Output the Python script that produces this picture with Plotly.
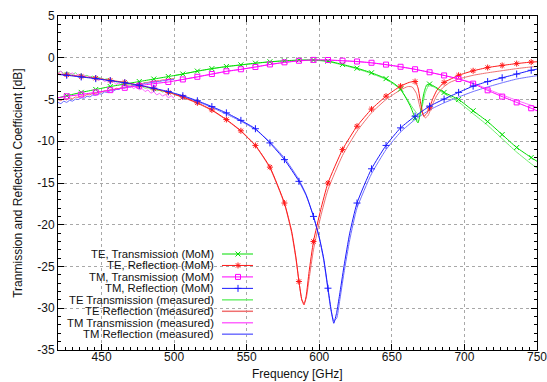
import plotly.graph_objects as go

# ---------------- data ----------------
# MoM simulations
te_t_mom_f = [420, 426, 436, 446, 456, 466, 476, 486, 496, 506, 516, 526, 536, 546, 556, 566, 576, 586, 596, 606,
              616, 626, 636, 646, 652, 656, 660, 663, 666, 668, 670, 672, 674, 676, 680, 686, 696, 706, 716, 726,
              736, 746, 750]
te_t_mom_db = [-4.8, -4.55, -4.15, -3.8, -3.45, -3.15, -2.85, -2.55, -2.25, -1.95, -1.6, -1.3, -1.05, -0.85, -0.65,
               -0.48, -0.36, -0.28, -0.27, -0.4, -0.8, -1.25, -1.8, -2.5, -3.15, -3.75, -4.9, -5.9, -7.2, -7.8,
               -6.3, -4.3, -3.25, -3.15, -3.5, -4.15, -5.0, -6.35, -7.65, -9.2, -10.75, -11.95, -12.4]

te_r_mom_f = [420, 426, 436, 446, 456, 466, 476, 486, 496, 506, 516, 526, 536, 546, 556, 566, 576, 581, 584, 586,
              588, 589.5, 591, 593, 596, 601, 606, 616, 626, 636, 646, 656, 662, 666, 668, 670, 672, 674, 676,
              678, 681, 686, 690, 696, 706, 716, 726, 736, 746, 750]
te_r_mom_db = [-1.95, -2.05, -2.25, -2.45, -2.7, -2.95, -3.3, -3.7, -4.15, -4.7, -5.4, -6.25, -7.4, -8.75, -10.5,
               -13.1, -17.4, -20.8, -24.0, -26.8, -29.0, -29.6, -28.5, -25.6, -22.0, -18.2, -15.0, -11.0, -8.2,
               -6.15, -4.6, -3.4, -2.95, -2.85, -3.6, -5.6, -7.0, -6.7, -6.0, -5.0, -3.9, -2.95, -2.6, -2.1, -1.56,
               -1.17, -0.92, -0.7, -0.52, -0.48]

tm_t_mom_f = [420, 426, 436, 446, 456, 466, 476, 486, 496, 506, 516, 526, 536, 546, 556, 566, 576, 586, 596, 606,
              616, 626, 636, 646, 656, 666, 676, 686, 696, 706, 716, 726, 736, 746, 750]
tm_t_mom_db = [-4.8, -4.62, -4.4, -4.15, -3.88, -3.6, -3.35, -3.1, -2.9, -2.6, -2.28, -1.95, -1.62, -1.38, -1.1,
               -0.8, -0.55, -0.36, -0.26, -0.27, -0.35, -0.45, -0.6, -0.82, -1.08, -1.38, -1.74, -2.12, -2.55,
               -3.1, -3.9, -4.65, -5.35, -6.05, -6.35]

tm_r_mom_f = [420, 426, 436, 446, 456, 466, 476, 486, 496, 506, 516, 526, 536, 546, 556, 566, 576, 586, 591, 596,
              600, 603, 606, 608, 610, 612, 614, 617, 621, 626, 636, 646, 656, 666, 676, 686, 696, 706, 716, 726,
              736, 746, 750]
tm_r_mom_db = [-2.0, -2.1, -2.3, -2.5, -2.75, -3.0, -3.3, -3.65, -4.05, -4.55, -5.15, -5.85, -6.6, -7.5, -8.5,
               -10.2, -12.2, -14.8, -16.5, -19.0, -21.5, -24.0, -27.6, -30.0, -31.8, -30.5, -28.4, -25.0, -21.0,
               -17.4, -13.3, -10.5, -8.4, -7.0, -5.8, -4.95, -4.15, -3.4, -2.85, -2.4, -1.95, -1.5, -1.36]

# Measurements, band 1 (420-500 GHz, every 2 GHz)
meas1_f = [420, 422, 424, 426, 428, 430, 432, 434, 436, 438, 440, 442, 444, 446, 448, 450, 452, 454, 456, 458,
           460, 462, 464, 466, 468, 470, 472, 474, 476, 478, 480, 482, 484, 486, 488, 490, 492, 494, 496, 498, 500]
te_t_meas1 = [-1.75, -1.6, -1.9, -1.7, -1.85, -2.0, -1.8, -2.1, -1.95, -2.2, -2.1, -2.3, -2.2, -2.45, -2.35, -2.5,
              -2.6, -2.5, -2.75, -2.7, -2.9, -2.85, -3.05, -3.0, -3.2, -3.15, -3.35, -3.3, -3.5, -3.45, -3.65,
              -3.6, -3.8, -3.75, -3.95, -3.9, -4.1, -4.0, -4.25, -4.2, -4.35]
tm_t_meas1 = [-1.9, -1.6, -2.1, -1.75, -2.0, -1.8, -2.2, -1.95, -2.3, -2.05, -2.4, -2.2, -2.55, -2.35, -2.7, -2.5,
              -2.85, -2.7, -3.0, -2.85, -3.2, -3.0, -3.35, -3.2, -3.5, -3.35, -3.7, -3.5, -3.85, -3.7, -4.05,
              -3.85, -4.25, -4.05, -4.45, -4.25, -4.6, -4.4, -4.8, -4.55, -4.85]
te_r_meas1 = [-5.0, -5.15, -4.9, -5.05, -4.8, -4.9, -4.7, -4.75, -4.55, -4.6, -4.4, -4.45, -4.25, -4.3, -4.1,
              -4.15, -3.95, -4.0, -3.8, -3.85, -3.65, -3.7, -3.5, -3.55, -3.35, -3.4, -3.25, -3.25, -3.1, -3.1,
              -2.95, -2.95, -2.85, -2.85, -2.75, -2.75, -2.65, -2.65, -2.55, -2.55, -2.5]
tm_r_meas1 = [-5.35, -5.5, -5.2, -5.35, -5.1, -5.2, -4.95, -5.0, -4.8, -4.85, -4.6, -4.7, -4.45, -4.5, -4.3,
              -4.35, -4.1, -4.15, -3.95, -4.0, -3.8, -3.8, -3.6, -3.65, -3.45, -3.5, -3.3, -3.35, -3.2, -3.2,
              -3.05, -3.05, -2.95, -2.95, -2.85, -2.85, -2.75, -2.75, -2.65, -2.65, -2.6]

# Measurements, band 2 (500-750 GHz)
te_t_meas2_f = [500, 506, 516, 526, 536, 546, 556, 566, 576, 586, 596, 606, 616, 626, 636, 646, 652, 656, 660, 664,
                667, 669, 671, 673, 675, 677, 680, 686, 696, 706, 716, 726, 736, 746, 750]
te_t_meas2_db = [-2.15, -1.95, -1.62, -1.32, -1.07, -0.87, -0.67, -0.5, -0.38, -0.3, -0.3, -0.45, -0.87, -1.33,
                 -1.9, -2.6, -3.25, -3.85, -4.8, -5.9, -6.6, -6.9, -5.8, -4.2, -3.45, -3.35, -3.6, -4.3, -5.3,
                 -6.7, -8.1, -9.7, -11.3, -12.7, -13.2]

te_r_meas2_f = [500, 506, 516, 526, 536, 546, 556, 566, 576, 581, 584, 586, 588, 589.5, 591, 593, 596, 601, 606,
                616, 626, 636, 646, 656, 661, 664, 667, 670, 673, 675, 678, 681, 685, 690, 696, 706, 716, 726, 736,
                746, 750]
te_r_meas2_db = [-4.4, -4.75, -5.45, -6.3, -7.45, -8.8, -10.55, -13.2, -17.5, -21.0, -24.2, -26.8, -29.0, -29.4,
                 -28.8, -26.5, -23.0, -19.0, -15.8, -11.7, -8.8, -6.6, -5.0, -3.85, -3.45, -3.5, -4.3, -6.3, -7.2,
                 -6.9, -5.6, -4.5, -3.6, -2.95, -2.55, -2.1, -1.8, -1.55, -1.3, -1.1, -1.04]

tm_t_meas2_f = [500, 506, 516, 526, 536, 546, 556, 566, 576, 586, 596, 606, 616, 626, 636, 646, 656, 666, 676, 686,
                696, 706, 716, 726, 736, 746, 750]
tm_t_meas2_db = [-2.8, -2.6, -2.3, -1.97, -1.65, -1.4, -1.12, -0.82, -0.57, -0.38, -0.28, -0.29, -0.37, -0.47,
                 -0.62, -0.84, -1.1, -1.4, -1.75, -2.12, -2.52, -3.02, -3.75, -4.45, -5.1, -5.7, -5.95]

tm_r_meas2_f = [500, 506, 516, 526, 536, 546, 556, 566, 576, 586, 591, 596, 600, 603, 606, 608, 610, 612, 614, 617,
                621, 626, 636, 646, 656, 666, 676, 686, 696, 706, 716, 726, 736, 746, 750]
tm_r_meas2_db = [-4.3, -4.65, -5.25, -5.95, -6.75, -7.6, -8.6, -10.1, -12.0, -14.6, -16.4, -19.0, -21.6, -24.2,
                 -27.8, -30.2, -31.5, -31.2, -29.2, -25.8, -21.8, -18.0, -13.9, -11.0, -8.9, -7.4, -6.25, -5.4,
                 -4.7, -4.05, -3.5, -3.0, -2.55, -2.25, -2.15]

legend_labels = ["TE, Transmission (MoM)", "TE, Reflection (MoM)", "TM, Transmission (MoM)",
                 "TM, Reflection (MoM)", "TE Transmission (measured)", "TE Reflection (measured)",
                 "TM Transmission (measured)", "TM Reflection (measured)"]

x_ticks = [450, 500, 550, 600, 650, 700, 750]
y_ticks = [5, 0, -5, -10, -15, -20, -25, -30, -35]

# ---------------- styles ----------------
C_MOM = ["#00dd00", "#ff1a1a", "#ff00ff", "#1a1aff"]
C_MEAS = ["#70f070", "#f07070", "#ff66ff", "#7070ff"]
SYMS = ["x-thin-open", "asterisk-open", "square-open", "cross-thin-open"]
FONT = "Liberation Sans, Arial, sans-serif"

fig = go.Figure()

moms = [(te_t_mom_f, te_t_mom_db), (te_r_mom_f, te_r_mom_db), (tm_t_mom_f, tm_t_mom_db), (tm_r_mom_f, tm_r_mom_db)]
meas = [(te_t_meas1, te_t_meas2_f, te_t_meas2_db), (te_r_meas1, te_r_meas2_f, te_r_meas2_db),
        (tm_t_meas1, tm_t_meas2_f, tm_t_meas2_db), (tm_r_meas1, tm_r_meas2_f, tm_r_meas2_db)]

# measured curves
for i, (b1, f2, d2) in enumerate(meas):
    fig.add_trace(go.Scatter(x=meas1_f, y=b1, mode="lines", line=dict(color=C_MEAS[i], width=1),
                             showlegend=False, hoverinfo="skip"))
    fig.add_trace(go.Scatter(x=f2, y=d2, mode="lines", line=dict(color=C_MEAS[i], width=1, shape="spline",
                                                                 smoothing=0.5),
                             showlegend=False, hoverinfo="skip"))

# MoM curves with markers every 10 GHz
for i, (f, d) in enumerate(moms):
    fig.add_trace(go.Scatter(x=f, y=d, mode="lines", line=dict(color=C_MOM[i], width=1, shape="spline",
                                                               smoothing=0.5),
                             showlegend=False, hoverinfo="skip"))
    mf = [fv for fv in f if float(fv).is_integer() and int(fv) % 10 == 6]
    md = [dv for fv, dv in zip(f, d) if float(fv).is_integer() and int(fv) % 10 == 6]
    fig.add_trace(go.Scatter(x=mf, y=md, mode="markers",
                             marker=dict(symbol=SYMS[i], size=5, color=C_MOM[i], line=dict(width=1, color=C_MOM[i])),
                             showlegend=False, hoverinfo="skip"))

# custom gnuplot-style key (text right, sample on the right) on overlay axes
row0 = 0.2874
dy = 0.0343
for k, lab in enumerate(legend_labels):
    yk = row0 - k * dy
    fig.add_annotation(x=0.3278, y=yk, xref="paper", yref="paper", text=lab, showarrow=False,
                       xanchor="right", yanchor="middle", borderpad=0,
                       font=dict(family=FONT, size=11.3, color="#111"))
    if k < 4:
        col, w = C_MOM[k], 1
    else:
        col, w = C_MEAS[k - 4], 1.5
    fig.add_trace(go.Scatter(x=[0.3424, 0.4071], y=[yk, yk], xaxis="x2", yaxis="y2", mode="lines",
                             line=dict(color=col, width=w), showlegend=False, hoverinfo="skip"))
    if k < 4:
        fig.add_trace(go.Scatter(x=[0.3758], y=[yk], xaxis="x2", yaxis="y2", mode="markers",
                                 marker=dict(symbol=SYMS[k], size=5, color=col, line=dict(width=1, color=col)),
                                 showlegend=False, hoverinfo="skip"))

axis_common = dict(showline=True, linecolor="black", linewidth=1, mirror="ticks", ticks="inside",
                   ticklen=6, tickcolor="black", showgrid=True, gridcolor="#a8a8a8", griddash="dot",
                   gridwidth=1, zeroline=False, automargin=False, ticklabeloverflow="allow",
                   tickfont=dict(family=FONT, size=12, color="#111"))

fig.update_layout(
    width=547, height=382,
    margin=dict(l=58, r=10, t=16, b=32),
    paper_bgcolor="white", plot_bgcolor="white",
    showlegend=False,
    xaxis=dict(range=[420, 750], tickvals=x_ticks, ticktext=[str(v) for v in x_ticks],
               ticklabelstandoff=-4,
               minor=dict(dtick=5, tick0=0, ticks="inside", ticklen=3, tickcolor="black", showgrid=False),
               **axis_common),
    yaxis=dict(range=[-35, 5], tickvals=y_ticks, ticktext=[str(v) for v in y_ticks],
               minor=dict(dtick=1, tick0=0, ticks="inside", ticklen=3, tickcolor="black", showgrid=False),
               **axis_common),
    xaxis2=dict(overlaying="x", range=[0, 1], visible=False, fixedrange=True, automargin=False),
    yaxis2=dict(overlaying="y", range=[0, 1], visible=False, fixedrange=True, automargin=False),
)

fig.add_annotation(x=0.5, y=-0.0955, xref="paper", yref="paper", text="Frequency [GHz]", showarrow=False,
                   xanchor="center", yanchor="bottom", borderpad=0, font=dict(family=FONT, size=12, color="#111"))
fig.add_annotation(x=-0.084, y=0.5, xref="paper", yref="paper", text="Tranmission and Reflection Coefficient [dB]",
                   showarrow=False, textangle=-90, xanchor="center", yanchor="middle", borderpad=0,
                   font=dict(family=FONT, size=12, color="#111"))

fig.write_html("out.html", config={"displayModeBar": False},
               post_script="document.body.style.margin='0';document.body.style.overflow='hidden';")
